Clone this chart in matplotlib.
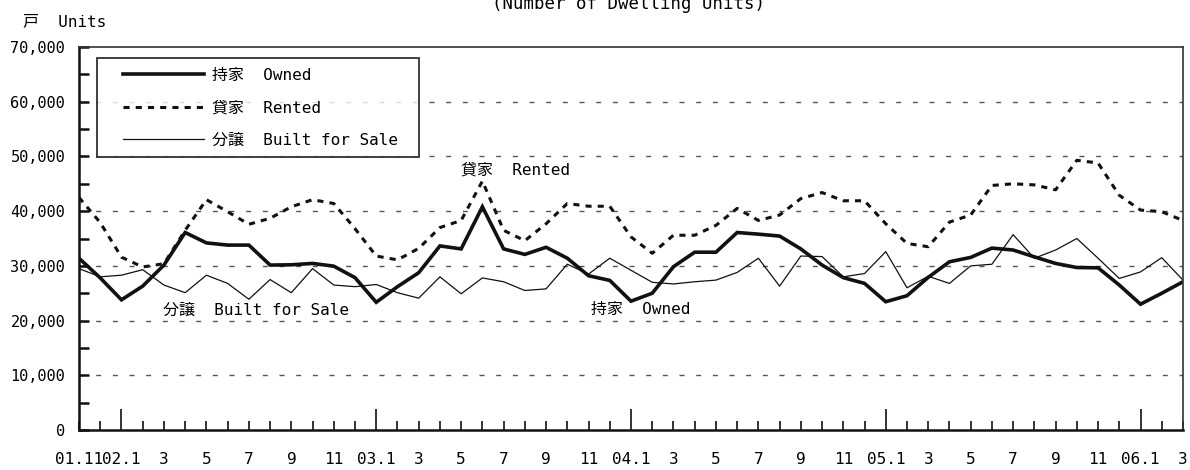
import numpy as np
import matplotlib
matplotlib.use("Agg")
import matplotlib.pyplot as plt
from matplotlib.ticker import FixedLocator, FuncFormatter
from matplotlib.legend_handler import HandlerLine2D

plt.rcParams['font.family'] = ['DejaVu Sans Mono', 'Noto Sans CJK JP']

# monthly values, 2001.11 .. 2006.3
owned = [31400, 27800, 23800, 26300, 30150, 36100, 34200, 33800, 33800, 30150,
         30200, 30450, 29950, 27850, 23350, 26200, 28750, 33650, 33100, 40800,
         33100, 32100, 33400, 31400, 28200, 27350, 23550, 25000, 29850, 32500,
         32500, 36100, 35800, 35450, 33100, 30150, 27850, 26800, 23450, 24550,
         27900, 30750, 31550, 33250, 32900, 31650, 30450, 29700, 29650, 26500,
         23000, 25000, 27100]
rented = [42500, 37900, 31600, 29800, 30400, 36500, 42100, 39900, 37600, 38700,
          40800, 42100, 41400, 36800, 31800, 31100, 33200, 37000, 38300, 45500,
          36500, 34600, 37700, 41400, 40900, 40900, 35300, 32300, 35600, 35600,
          37400, 40500, 38300, 39300, 42300, 43400, 41900, 41900, 37700, 34100,
          33500, 38000, 39300, 44700, 45000, 44800, 43900, 49300, 48800, 42900,
          40200, 39900, 38300]
built = [29500, 28000, 28300, 29300, 26500, 25100, 28300, 26800, 23900, 27500,
         25100, 29500, 26500, 26200, 26600, 25100, 24100, 28000, 24900, 27800,
         27100, 25500, 25800, 30300, 28500, 31400, 29200, 27000, 26700, 27100,
         27400, 28800, 31400, 26300, 31800, 31700, 28000, 28600, 32600, 26000,
         28100, 26800, 30000, 30300, 35700, 31400, 32900, 35000, 31400, 27700,
         28900, 31500, 27400]

# labels on every second month
month_labels = ['01.11', '02.1', '3', '5', '7', '9', '11',
                '03.1', '3', '5', '7', '9', '11',
                '04.1', '3', '5', '7', '9', '11',
                '05.1', '3', '5', '7', '9', '11',
                '06.1', '3']

series_names = ['持家  Owned', '貸家  Rented', '分譲  Built for Sale']

x = np.arange(len(owned))

fig = plt.figure(figsize=(11.9, 4.7), dpi=100)
ax = fig.add_axes([0.0664, 0.085, 0.9277, 0.815])

l1, = ax.plot(x, owned, color='#111111', lw=2.6, solid_joinstyle='miter', label=series_names[0])
l2, = ax.plot(x, rented, color='#111111', lw=2.2, linestyle=(0, (2.0, 2.0)), label=series_names[1])
l3, = ax.plot(x, built, color='#111111', lw=0.9, label=series_names[2])

ax.set_xlim(0, len(owned) - 1)
ax.set_ylim(0, 70000)

# grid lines
for v in range(10000, 70000, 10000):
    ax.axhline(v, color='#555555', lw=1.0, linestyle=(0, (3.6, 8.4)), zorder=0)

# y axis
ax.yaxis.set_major_locator(FixedLocator(range(0, 70001, 10000)))
ax.yaxis.set_minor_locator(FixedLocator(range(5000, 70000, 10000)))
ax.yaxis.set_major_formatter(FuncFormatter(lambda v, p: f'{int(v):,}'))
ax.tick_params(axis='y', which='both', direction='in', length=7, width=1.8,
               labelsize=11, pad=10, color='#111111')

# x axis
label_pos = x[::2]
ax.xaxis.set_major_locator(FixedLocator(label_pos))
ax.xaxis.set_minor_locator(FixedLocator(x[1::2]))
ax.set_xticklabels(month_labels)
ax.tick_params(axis='x', which='both', direction='in', length=6.5, width=1.2,
               labelsize=11.5, pad=16, color='#111111')
fig.canvas.draw()
for tick, lab in zip(ax.xaxis.get_major_ticks(), month_labels):
    if lab.endswith('.1'):
        tick.tick1line.set_markersize(15)

for side in ['left', 'bottom']:
    ax.spines[side].set_linewidth(1.8)
    ax.spines[side].set_color('#111111')
for side in ['top', 'right']:
    ax.spines[side].set_linewidth(1.2)
    ax.spines[side].set_color('#333333')

hmap = {h: HandlerLine2D(xpad=1.0) for h in (l1, l2, l3)}
leg = ax.legend(handles=[l1, l2, l3], handler_map=hmap,
                loc='upper left', bbox_to_anchor=(0.0163, 0.0, 0.2917, 0.971),
                mode='expand', fontsize=11.5,
                handlelength=6.1, handletextpad=0.5, labelspacing=1.1,
                borderpad=0.6, borderaxespad=0, fancybox=False, frameon=True)
leg.get_frame().set_edgecolor('#111111')
leg.get_frame().set_linewidth(1.4)

# labels inside the plot
ax.text(18.0, 47450, series_names[1], fontsize=11.5, va='center', ha='left')
ax.text(3.96, 21950, series_names[2], fontsize=11.5, va='center', ha='left')
ax.text(24.1, 21950, series_names[0], fontsize=11.5, va='center', ha='left')

fig.text(0.019, 0.953, '戸  Units', fontsize=11.5, va='center', ha='left')
fig.text(0.528, 0.981, '(Number of Dwelling Units)', fontsize=12.5, va='baseline', ha='center')

fig.savefig('out.png', dpi=100)
